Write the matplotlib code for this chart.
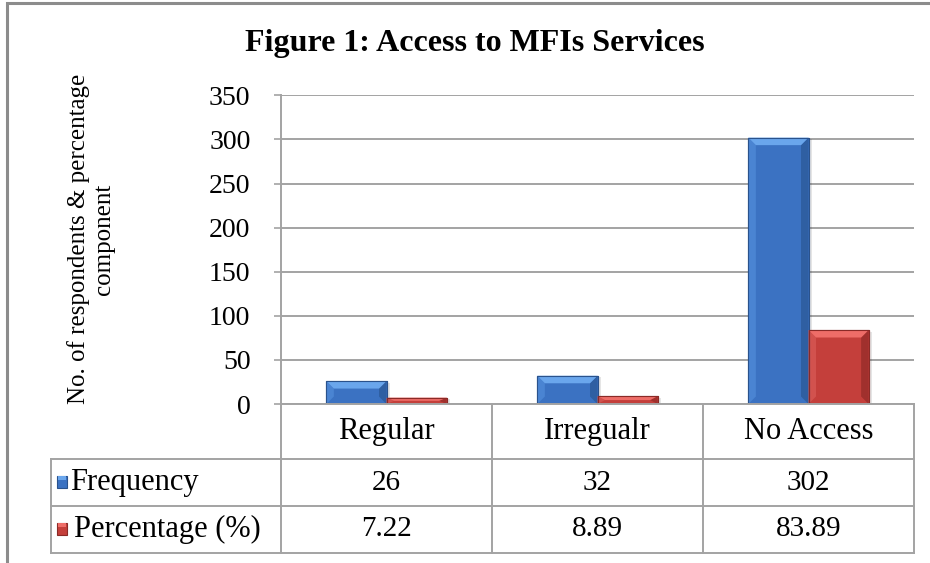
import matplotlib
matplotlib.use("Agg")
import matplotlib.pyplot as plt
from matplotlib.patches import Rectangle, Polygon
from matplotlib.lines import Line2D

# ---------------- data ----------------
categories = ["Regular", "Irregualr", "No Access"]
series_names = ["Frequency", "Percentage (%)"]
frequency = [26, 32, 302]
percentage = [7.22, 8.89, 83.89]
frequency_labels = ["26", "32", "302"]
percentage_labels = ["7.22", "8.89", "83.89"]
yticks = [0, 50, 100, 150, 200, 250, 300, 350]
title = "Figure 1: Access to MFIs Services"
ylabel = "No. of respondents & percentage\ncomponent"

# ---------------- style ----------------
plt.rcParams['font.family'] = ['Liberation Serif', 'DejaVu Serif']
W, H = 930, 563
GRID = "#a3a3a3"
blue = dict(body="#3b72c2", top="#6aa6ec", left="#4a84d2", right="#2f5fa2", edge="#2a528c")
red = dict(body="#c43f3b", top="#ee6d68", left="#d2524e", right="#a0302d", edge="#8a2a27")
styles = [blue, red]

fig = plt.figure(figsize=(W / 100, H / 100), dpi=100)


def fx(px):
    return px / W


def fy(py):
    return 1 - py / H


# outer frame
fig.add_artist(Rectangle((fx(7), -0.05), 1.2, fy(3) + 0.05, transform=fig.transFigure,
                         fill=False, edgecolor="#8c8c8c", lw=2.2))

ax_l, ax_r, ax_t, ax_b = 281, 914, 95.3, 404
ax = fig.add_axes([fx(ax_l), fy(ax_b), (ax_r - ax_l) / W, (ax_b - ax_t) / H])
ax.set_xlim(-0.5, len(categories) - 0.5)
ax.set_ylim(yticks[0], yticks[-1])
ax.set_yticks(yticks)
ax.set_yticklabels([str(t) for t in yticks], fontsize=20)
ax.set_xticks([])
ax.tick_params(axis="y", length=5, width=1.2, color=GRID, pad=17)
for s in ["top", "right", "bottom"]:
    ax.spines[s].set_visible(False)
ax.spines["left"].set_color(GRID)
ax.spines["left"].set_linewidth(1.4)
ax.yaxis.grid(True, color=GRID, lw=1.4)
ax.set_axisbelow(True)

# pixel -> data scaling
px_per_x = (ax_r - ax_l) / (len(categories))
px_per_y = (ax_b - ax_t) / (yticks[-1] - yticks[0])
bev_px = 7.5
bw = 0.285
series = [frequency, percentage]
for si, vals in enumerate(series):
    st = styles[si]
    for ci, v in enumerate(vals):
        x0 = ci + (si - 1) * bw
        x1 = x0 + bw
        dx = bev_px / px_per_x
        dy = min(bev_px / px_per_y, v * 0.5)
        # soft shadow
        ax.add_patch(Rectangle((x1, 0), 3 / px_per_x, v - 1.5 / px_per_y, facecolor="#000000",
                               alpha=0.10, lw=0, zorder=2))
        ax.bar(x0, v, width=bw, align="edge", color=st["body"], edgecolor=st["edge"], lw=0.8, zorder=3)
        ax.add_patch(Polygon([(x0, 0), (x0 + dx, dy), (x0 + dx, v - dy), (x0, v)], closed=True,
                             facecolor=st["left"], lw=0, zorder=4))
        ax.add_patch(Polygon([(x1, 0), (x1 - dx, dy), (x1 - dx, v - dy), (x1, v)], closed=True,
                             facecolor=st["right"], lw=0, zorder=4))
        ax.add_patch(Polygon([(x0, v), (x1, v), (x1 - dx, v - dy), (x0 + dx, v - dy)], closed=True,
                             facecolor=st["top"], lw=0, zorder=4))
        ax.add_patch(Rectangle((x0, 0), bw, v, fill=False, edgecolor=st["edge"], lw=0.8, zorder=5))

# ---------------- data table ----------------
tab_l = 51
col_edges = [ax_l + i * (ax_r - ax_l) / len(categories) for i in range(len(categories) + 1)]
row_edges = [ax_b, 459, 506, 553]


def hline(y, xa, xb):
    fig.add_artist(Line2D([fx(xa), fx(xb)], [fy(y), fy(y)], color=GRID, lw=1.4,
                          transform=fig.transFigure))


def vline(x, ya, yb):
    fig.add_artist(Line2D([fx(x), fx(x)], [fy(ya), fy(yb)], color=GRID, lw=1.4,
                          transform=fig.transFigure))


hline(row_edges[0], ax_l, ax_r)
for y in row_edges[1:]:
    hline(y, tab_l, ax_r)
for x in col_edges:
    vline(x, row_edges[0], row_edges[-1])
vline(tab_l, row_edges[1], row_edges[-1])

FS = 22
FSN = 21
for ci, cat in enumerate(categories):
    cx = (col_edges[ci] + col_edges[ci + 1]) / 2
    fig.text(fx(cx), fy((row_edges[0] + row_edges[1]) / 2), cat, ha="center", va="center", fontsize=FS)
    fig.text(fx(cx), fy((row_edges[1] + row_edges[2]) / 2), frequency_labels[ci], ha="center",
             va="center", fontsize=FSN)
    fig.text(fx(cx), fy((row_edges[2] + row_edges[3]) / 2), percentage_labels[ci], ha="center",
             va="center", fontsize=FSN)

for ri, name in enumerate(series_names):
    cy = (row_edges[ri + 1] + row_edges[ri + 2]) / 2
    st = styles[ri]
    fig.add_artist(Rectangle((fx(57), fy(cy + 5)), 10 / W, 12 / H, transform=fig.transFigure,
                             facecolor=st["body"], edgecolor=st["edge"], lw=0.8))
    fig.add_artist(Rectangle((fx(58), fy(cy - 3)), 8 / W, 4 / H, transform=fig.transFigure,
                             facecolor=st["top"], lw=0))
    fig.text(fx(70 if ri == 0 else 74), fy(cy), name, ha="left", va="center", fontsize=FS)

# ---------------- titles ----------------
fig.text(fx(475), fy(44), title, ha="center", va="center", fontsize=23, fontweight="bold")
fig.text(fx(91), fy(239), ylabel, ha="center", va="center", rotation=90, fontsize=18,
         linespacing=1.15)

fig.savefig("out.png", dpi=100)
